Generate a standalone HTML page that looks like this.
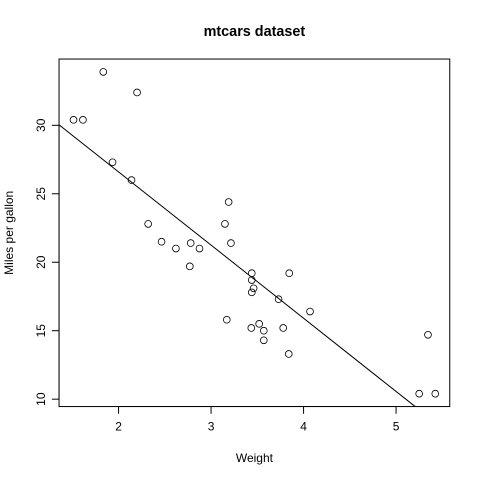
<!DOCTYPE html>
<html><head><meta charset="utf-8"><style>
html,body{margin:0;padding:0;background:#fff;width:480px;height:480px;overflow:hidden}
svg{display:block;font-family:"Liberation Sans",sans-serif}
</style></head><body>
<svg id="chart" width="480" height="480">
<rect width="480" height="480" fill="#fff"/>
<text x="254.4" y="36" text-anchor="middle" font-size="14.4" font-weight="bold">mtcars dataset</text>
<text x="254.4" y="462" text-anchor="middle" font-size="12">Weight</text>
<text transform="translate(13,232.8) rotate(-90)" text-anchor="middle" font-size="12">Miles per gallon</text>
<rect x="59.04" y="59.04" width="390.72" height="347.52" fill="none" stroke="#000"/>
<g id="axes"></g>
<g id="points"></g>
</svg>
<script>
const wt=[2.620,2.875,2.320,3.215,3.440,3.460,3.570,3.190,3.150,3.440,3.440,4.070,3.730,3.780,5.250,5.424,5.345,2.200,1.615,1.835,2.465,3.520,3.435,3.840,3.845,1.935,2.140,1.513,3.170,2.770,3.570,2.780];
const mpg=[21.0,21.0,22.8,21.4,18.7,18.1,14.3,24.4,22.8,19.2,17.8,16.4,17.3,15.2,10.4,10.4,14.7,32.4,30.4,33.9,21.5,15.5,15.2,13.3,19.2,27.3,26.0,30.4,15.8,19.7,15.0,21.4];
const xTicks=[2,3,4,5];
const yTicks=[10,15,20,25,30];
const fitIntercept=37.285, fitSlope=-5.344;
const NS="http://www.w3.org/2000/svg";
const L=59.04,R=449.76,T=59.04,B=406.56;
function ext(a){const mn=Math.min(...a),mx=Math.max(...a),d=(mx-mn)*0.04;return [mn-d,mx+d];}
const [x0,x1]=ext(wt),[y0,y1]=ext(mpg);
const sx=v=>L+(v-x0)/(x1-x0)*(R-L);
const sy=v=>B-(v-y0)/(y1-y0)*(B-T);
function mk(tag,attrs,parent){const e=document.createElementNS(NS,tag);for(const k in attrs)e.setAttribute(k,attrs[k]);parent.appendChild(e);return e;}
const ax=document.getElementById('axes'),pt=document.getElementById('points');
mk('line',{x1:sx(xTicks[0]),x2:sx(xTicks[xTicks.length-1]),y1:B,y2:B,stroke:'#000'},ax);
xTicks.forEach(t=>{
  const l=mk('line',{x1:sx(t),x2:sx(t),y1:B,y2:B+7.2,stroke:'#000'},ax);
  
  
  const tx=mk('text',{x:sx(t),y:B+24,'text-anchor':'middle','font-size':12},ax);tx.textContent=t;
  
  
});
mk('line',{x1:L,x2:L,y1:sy(yTicks[0]),y2:sy(yTicks[yTicks.length-1]),stroke:'#000'},ax);
yTicks.forEach(t=>{
  const l=mk('line',{x1:L-7.2,x2:L,y1:sy(t),y2:sy(t),stroke:'#000'},ax);
  
  
  const tx=mk('text',{transform:`translate(${L-14},${sy(t)}) rotate(-90)`,'text-anchor':'middle','font-size':12},ax);tx.textContent=t;
  
  
});
wt.forEach((w,i)=>{
  const c=mk('circle',{cx:sx(w),cy:sy(mpg[i]),r:3.4,fill:'none',stroke:'#000','stroke-width':0.8},pt);
  
  
});
// clip regression line analytically to plot range
const f=x=>fitIntercept+fitSlope*x;
const g=y=>(y-fitIntercept)/fitSlope;
let ax0=x0, ax1=x1;
const xa=g(y1), xb=g(y0);
const lo=Math.min(xa,xb), hi=Math.max(xa,xb);
ax0=Math.max(ax0,lo); ax1=Math.min(ax1,hi);
const fl=mk('line',{x1:sx(ax0),y1:sy(f(ax0)),x2:sx(ax1),y2:sy(f(ax1)),stroke:'#000'},pt);


</script>
</body></html>
